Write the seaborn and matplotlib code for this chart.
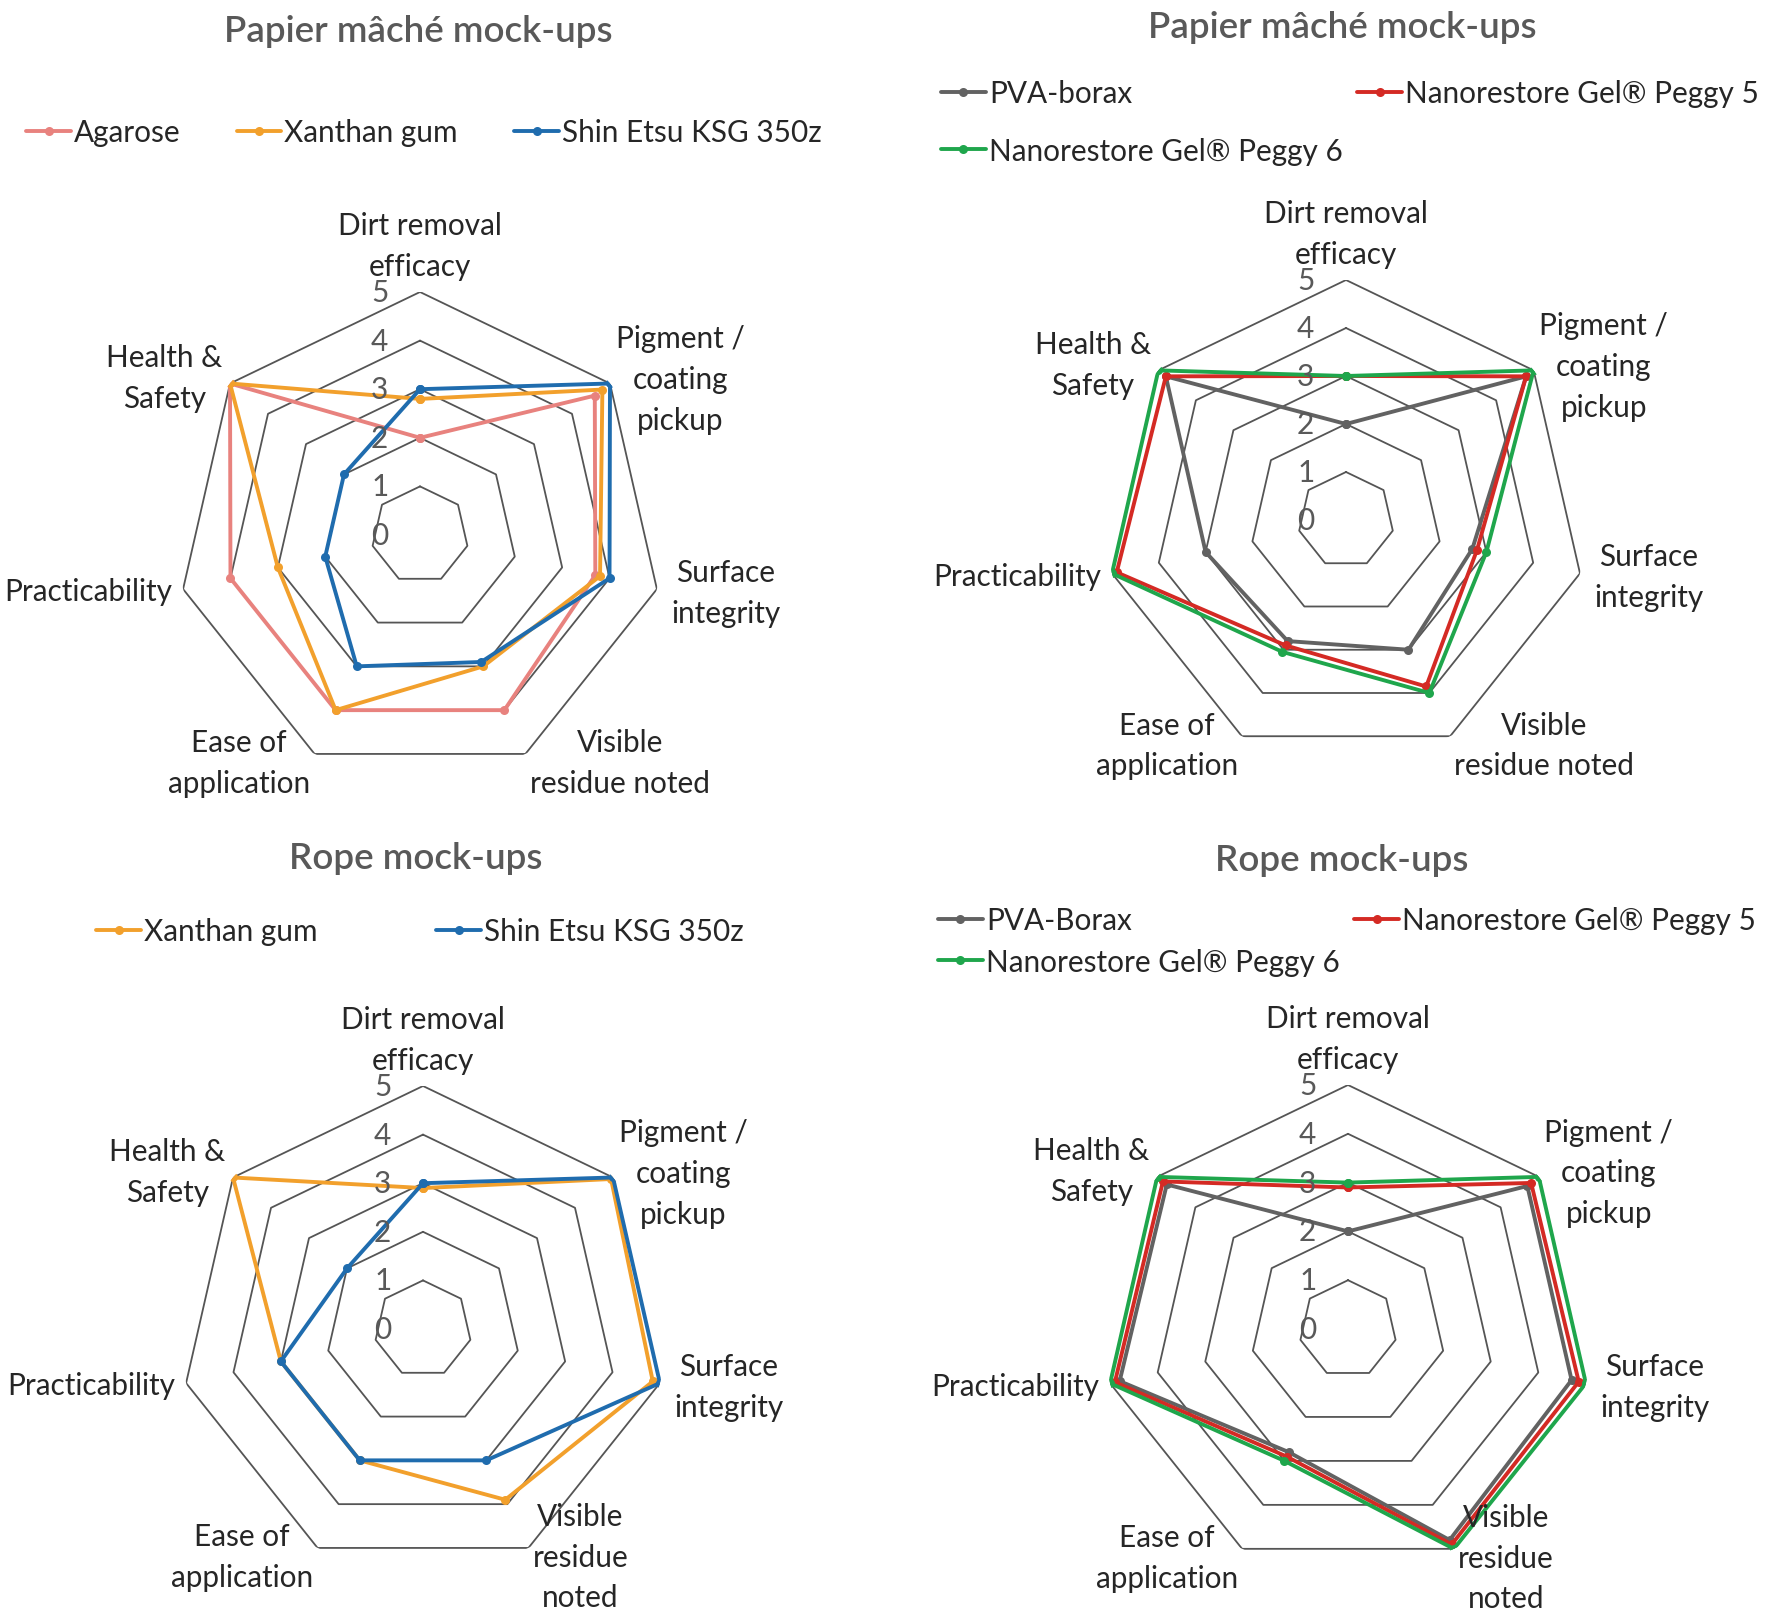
import matplotlib.pyplot as plt
import numpy as np
import pandas as pd
import seaborn as sns
from matplotlib.lines import Line2D

# Criteria around the radar, clockwise from the top
CATEGORIES = [
    "Dirt removal\nefficacy",
    "Pigment /\ncoating\npickup",
    "Surface\nintegrity",
    "Visible\nresidue noted",
    "Ease of\napplication",
    "Practicability",
    "Health &\nSafety",
]
CATEGORIES_ROPE = CATEGORIES[:3] + ["Visible\nresidue\nnoted"] + CATEGORIES[4:]

# Scores (0-5 scale)
PAPER_AGAROSE = [2, 4.6, 3.7, 4, 4, 4, 5]
PAPER_XANTHAN = [2.8, 4.8, 3.8, 3, 4, 3, 5]
PAPER_SHIN_ETSU = [3, 5, 4, 2.9, 3, 2, 2]

PAPER_PVA = [2, 4.8, 2.7, 3, 2.8, 3, 4.8]
PAPER_PEGGY5 = [3, 4.8, 2.8, 3.85, 2.9, 4.9, 4.8]
PAPER_PEGGY6 = [3, 5, 3, 4, 3.05, 5, 5]

ROPE_XANTHAN = [2.9, 4.95, 4.85, 3.9, 3, 3, 5]
ROPE_SHIN_ETSU = [3, 5, 5, 3, 3, 3, 2]

ROPE_PVA = [2, 4.7, 4.7, 4.8, 2.8, 4.8, 4.75]
ROPE_PEGGY5 = [2.9, 4.8, 4.85, 4.9, 2.9, 4.9, 4.85]
ROPE_PEGGY6 = [3, 5, 5, 5, 3, 5, 5]

LEVELS = [0, 1, 2, 3, 4, 5]

COLORS = {
    "Agarose": "#E8827E",
    "Xanthan gum": "#F2A02C",
    "Shin Etsu KSG 350z": "#1F6CAE",
    "PVA-borax": "#626262",
    "PVA-Borax": "#626262",
    "Nanorestore Gel® Peggy 5": "#D42A24",
    "Nanorestore Gel® Peggy 6": "#1FA64C",
}

W, H = 1772, 1624
TEXT = "#262626"
GRID = "#555555"
FS = 21.4

sns.set_style("white")
plt.rcParams["font.family"] = ["Lato", "DejaVu Sans"]

# (radius, ha, va) for each criterion label
LABEL_POS = [
    (5.25, "center", "bottom"),
    (5.15, "left", "center"),
    (5.3, "left", "center"),
    (5.2, "left", "center"),
    (5.2, "right", "center"),
    (5.22, "right", "center"),
    (5.2, "right", "center"),
]


def radar(fig, center, radius, series, categories, title, title_xy, legend_cfg):
    cx, cy = center
    rect = [(cx - radius) / W, 1 - (cy + radius) / H, 2 * radius / W, 2 * radius / H]
    ax = fig.add_axes(rect, projection="polar")
    ax.set_theta_zero_location("N")
    ax.set_theta_direction(-1)
    ax.set_facecolor("none")

    n = len(categories)
    theta = np.linspace(0, 2 * np.pi, n + 1)
    for level in LEVELS[1:]:
        ax.plot(theta, [level] * (n + 1), color=GRID, lw=1.3, zorder=1)

    records = []
    for name, values in series.items():
        closed = list(values) + [values[0]]
        records.extend(
            {"theta": t, "score": v, "series": name}
            for t, v in zip(theta, closed, strict=True)
        )
    df = pd.DataFrame(records)
    sns.lineplot(
        data=df,
        x="theta",
        y="score",
        hue="series",
        hue_order=list(series),
        palette=COLORS,
        sort=False,
        estimator=None,
        marker="o",
        markersize=6.5,
        markeredgewidth=0,
        linewidth=2.8,
        legend=False,
        ax=ax,
        zorder=3,
    )

    ax.set_ylim(0, 5)
    ax.set(xlabel="", ylabel="")
    ax.grid(False)
    ax.spines["polar"].set_visible(False)
    ax.set_xticks([])
    ax.set_yticks([])

    for i, (label, (r, ha, va)) in enumerate(zip(categories, LABEL_POS, strict=True)):
        ax.text(theta[i], r, label, ha=ha, va=va, multialignment="center",
                linespacing=1.55, fontsize=FS, color=TEXT, clip_on=False)
    for level in LEVELS:
        ax.annotate(str(level), xy=(0, level), xytext=(-29, 0),
                    textcoords="offset points", ha="center", va="center",
                    fontsize=FS, color="#595959")

    fig.text(title_xy[0] / W, 1 - title_xy[1] / H, title, ha="center", va="center",
             fontsize=26.5, fontweight="semibold", color="#595959")

    order, ncol, lx, ly, spacing, colspace = legend_cfg
    handles = [
        Line2D([], [], color=COLORS[name], marker="o", markersize=6.5,
               markeredgewidth=0, lw=2.8)
        for name in order
    ]
    fig.legend(handles, order, loc="center", bbox_to_anchor=(lx / W, 1 - ly / H),
               ncol=ncol, frameon=False, fontsize=FS, handlelength=1.5,
               handletextpad=0.1, columnspacing=colspace, labelspacing=spacing,
               borderpad=0.2)


fig = plt.figure(figsize=(W / 100, H / 100), dpi=100)

radar(
    fig, (420, 536), 243,
    {"Agarose": PAPER_AGAROSE, "Xanthan gum": PAPER_XANTHAN,
     "Shin Etsu KSG 350z": PAPER_SHIN_ETSU},
    CATEGORIES, "Papier mâché mock-ups", (418, 32),
    (["Agarose", "Xanthan gum", "Shin Etsu KSG 350z"], 3, 424, 133, 0.5, 1.9),
)
radar(
    fig, (1346, 521), 240,
    {"PVA-borax": PAPER_PVA, "Nanorestore Gel® Peggy 5": PAPER_PEGGY5,
     "Nanorestore Gel® Peggy 6": PAPER_PEGGY6},
    CATEGORIES, "Papier mâché mock-ups", (1342, 27),
    (["PVA-borax", "Nanorestore Gel® Peggy 6", "Nanorestore Gel® Peggy 5"],
     2, 1350, 123, 1.0, 0.5),
)
radar(
    fig, (423, 1330), 243,
    {"Xanthan gum": ROPE_XANTHAN, "Shin Etsu KSG 350z": ROPE_SHIN_ETSU},
    CATEGORIES_ROPE, "Rope mock-ups", (416, 859),
    (["Xanthan gum", "Shin Etsu KSG 350z"], 2, 420, 932, 0.5, 4.0),
)
radar(
    fig, (1348, 1330), 244,
    {"PVA-Borax": ROPE_PVA, "Nanorestore Gel® Peggy 5": ROPE_PEGGY5,
     "Nanorestore Gel® Peggy 6": ROPE_PEGGY6},
    CATEGORIES_ROPE, "Rope mock-ups", (1342, 861),
    (["PVA-Borax", "Nanorestore Gel® Peggy 6", "Nanorestore Gel® Peggy 5"],
     2, 1347, 942, 0.45, 0.5),
)

fig.savefig("out.png", dpi=100, facecolor="white")
